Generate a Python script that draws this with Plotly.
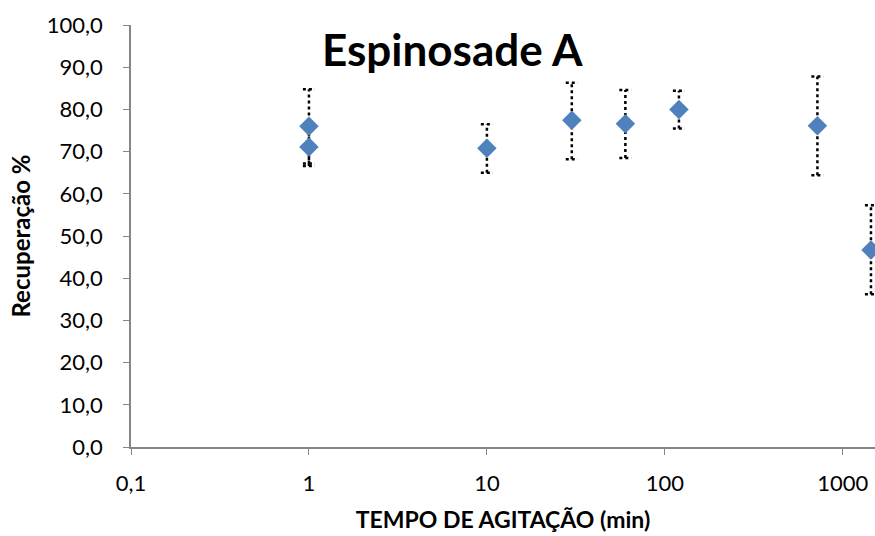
import plotly.graph_objects as go
import numpy as np

# Data
tempo_min = [1, 1, 10, 30, 60, 120, 720, 1440]
recuperacao = [76.0, 71.1, 70.8, 77.4, 76.6, 80.0, 76.1, 46.7]
erro_sup = [8.8, 4.5, 5.7, 8.9, 8.0, 4.4, 11.7, 10.6]
erro_inf = [8.8, 4.5, 5.8, 9.2, 8.1, 4.5, 11.7, 10.5]

x_tickvals = [0.1, 1, 10, 100, 1000]
x_ticktext = ["0,1", "1", "10", "100", "1000"]

FONT = "Lato, Calibri, Carlito, sans-serif"

# Build dotted error bars (vertical line + caps) from data
cap = 10 ** 0.034
ex, ey = [], []
for x, y, eu, el in zip(tempo_min, recuperacao, erro_sup, erro_inf):
    ex += [x, x, None]
    ey += [y - el, y + eu, None]
    ex += [x / cap, x * cap, None]
    ey += [y + eu, y + eu, None]
    ex += [x / cap, x * cap, None]
    ey += [y - el, y - el, None]

fig = go.Figure()
fig.add_trace(go.Scatter(
    x=ex, y=ey, mode="lines",
    line=dict(color="black", width=2.5, dash="dot"),
    hoverinfo="skip", showlegend=False, cliponaxis=True,
))
fig.add_trace(go.Scatter(
    x=tempo_min, y=recuperacao, mode="markers",
    marker=dict(symbol="diamond", size=15, color="#4F81BD",
                line=dict(width=0)),
    showlegend=False, cliponaxis=True,
))

fig.update_layout(
    width=875, height=536,
    margin=dict(l=131, r=0, t=25, b=89),
    paper_bgcolor="white", plot_bgcolor="white",
    separators=",.",
    font=dict(family=FONT, color="#000000"),
    annotations=[dict(
        text="<b>Espinosade A</b>",
        xref="x domain", yref="y domain",
        x=(452 - 131) / 744, y=(447 - 49) / 422,
        xanchor="center", yanchor="middle",
        showarrow=False, font=dict(size=44, family=FONT, color="black"),
    )],
)

fig.update_xaxes(
    type="log", range=[-1, np.log10(1517)],
    tickvals=x_tickvals, ticktext=x_ticktext,
    showgrid=False, zeroline=False,
    showline=True, linecolor="#868686", linewidth=1.5,
    ticks="outside", ticklen=6, tickcolor="#868686",
    ticklabelstandoff=10,
    tickfont=dict(size=22, family=FONT, color="black"),
    title=dict(text="<b>TEMPO DE AGITAÇÃO (min)</b>",
               font=dict(size=23, family=FONT, color="black"), standoff=17),
)
fig.update_yaxes(
    range=[0, 100], dtick=10, tickformat=".1f",
    showgrid=False, zeroline=False,
    showline=True, linecolor="#868686", linewidth=1.5,
    ticks="outside", ticklen=6, tickcolor="#868686",
    ticklabelstandoff=16,
    tickfont=dict(size=22, family=FONT, color="black"),
    title=dict(text="<b>Recuperação %</b>",
               font=dict(size=24, family=FONT, color="black"), standoff=9),
)

fig.write_html("out.html")
